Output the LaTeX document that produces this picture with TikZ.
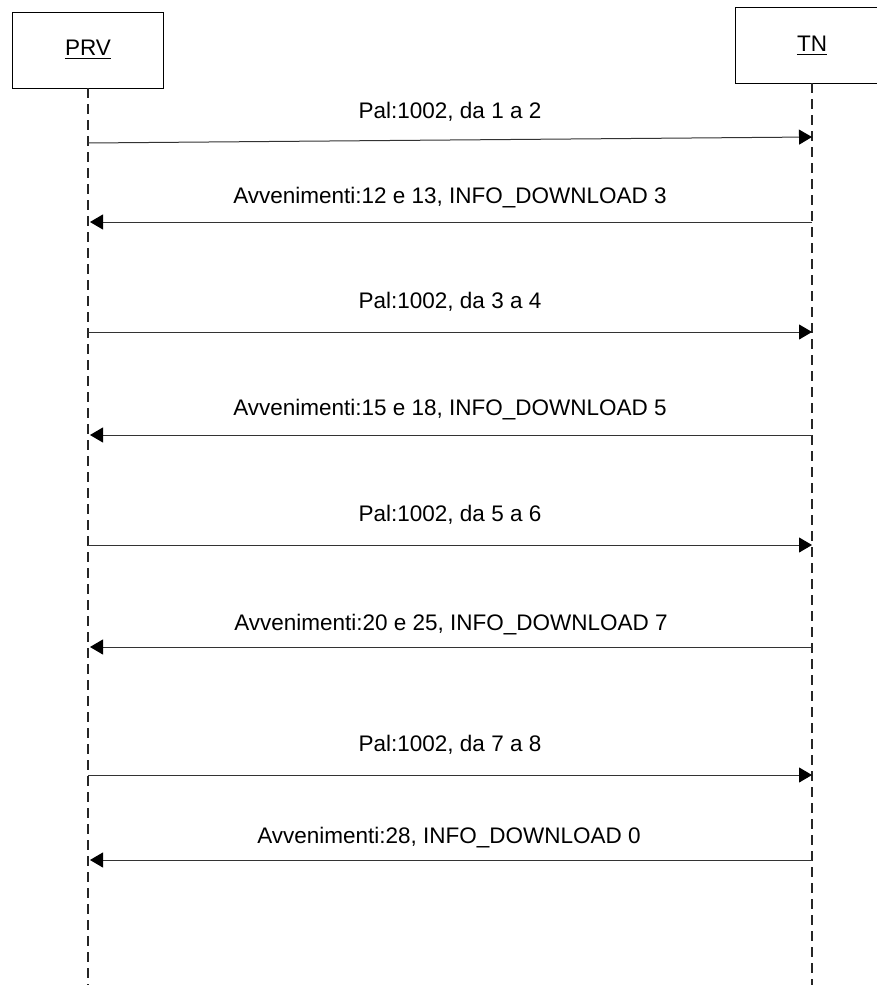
\documentclass[tikz,border=0pt]{standalone}
\usepackage{fontspec}
\setmainfont{Liberation Sans}
\usetikzlibrary{arrows.meta}
\tikzset{
  actor/.style={draw=black, line width=0.9pt, fill=white},
  lifeline/.style={draw=black!85, line width=1.2pt, dash pattern=on 10pt off 6pt},
  msg/.style={draw=black!80, line width=1pt, -{Triangle[length=13pt,width=15pt,color=black,fill=black]}},
  lbl/.style={font=\fontsize{22.5}{26}\selectfont, inner sep=0pt},
  aname/.style={font=\fontsize{22.5}{26}\selectfont, inner sep=0pt}
}
\begin{document}
\begin{tikzpicture}[x=1pt,y=-1pt]
\useasboundingbox (0,0) rectangle (877,985);
\clip (0,0) rectangle (877,985);
% actors
\draw[actor] (12,12) rectangle (163,88);
\draw[actor] (735,7) rectangle (889,83);
\node[aname] (prv) at (88,48) {PRV};
\node[aname] (tn) at (812,44) {TN};
\draw[line width=1pt] (prv.south west) ++(0,3) coordinate (pu1) -- (prv.south east |- pu1);
\draw[line width=1pt] (tn.south west) ++(0,3) coordinate (tu1) -- (tn.south east |- tu1);
% lifelines
\coordinate (prvtop) at (88,88);
\coordinate (prvbot) at (88,985);
\coordinate (tntop) at (812,83);
\coordinate (tnbot) at (812,985);
\draw[lifeline] (prvtop) -- (prvbot);
\draw[lifeline] (tntop) -- (tnbot);
% message endpoints
\coordinate (p1) at (88,143); \coordinate (t1) at (812,137);
\coordinate (t2) at (812,222); \coordinate (p2) at (90,222);
\coordinate (p3) at (88,332); \coordinate (t3) at (812,332);
\coordinate (t4) at (812,435); \coordinate (p4) at (90,435);
\coordinate (p5) at (88,545); \coordinate (t5) at (812,545);
\coordinate (t6) at (812,647); \coordinate (p6) at (90,647);
\coordinate (p7) at (88,775); \coordinate (t7) at (812,775);
\coordinate (t8) at (812,860); \coordinate (p8) at (90,860);
\draw[msg] (p1) -- (t1);
\draw[msg] (t2) -- (p2);
\draw[msg] (p3) -- (t3);
\draw[msg] (t4) -- (p4);
\draw[msg] (p5) -- (t5);
\draw[msg] (t6) -- (p6);
\draw[msg] (p7) -- (t7);
\draw[msg] (t8) -- (p8);
% labels
\node[lbl] (l1) at (450,112) {Pal:1002, da 1 a 2};
\node[lbl] (l2) at (450,198) {Avvenimenti:12 e 13, INFO\_DOWNLOAD 3};
\node[lbl] (l3) at (450,302) {Pal:1002, da 3 a 4};
\node[lbl] (l4) at (450,410) {Avvenimenti:15 e 18, INFO\_DOWNLOAD 5};
\node[lbl] (l5) at (450,515) {Pal:1002, da 5 a 6};
\node[lbl] (l6) at (451,625) {Avvenimenti:20 e 25, INFO\_DOWNLOAD 7};
\node[lbl] (l7) at (450,745) {Pal:1002, da 7 a 8};
\node[lbl] (l8) at (449,838) {Avvenimenti:28, INFO\_DOWNLOAD 0};
\end{tikzpicture}
\end{document}
